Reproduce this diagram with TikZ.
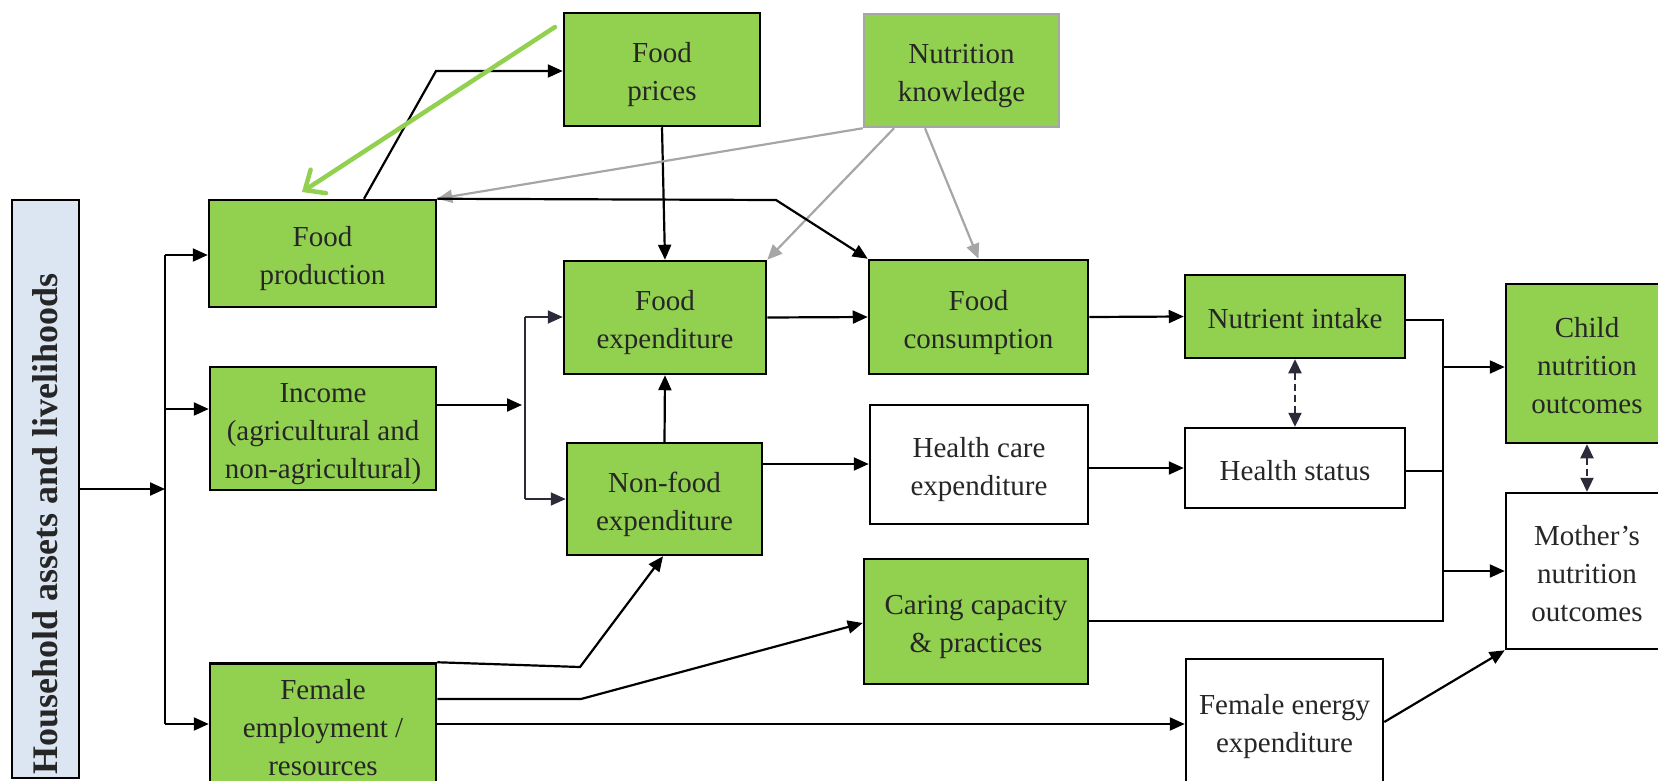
\documentclass[tikz,border=0pt]{standalone}
\usepackage{fontspec}
\setmainfont{Liberation Serif}
\usetikzlibrary{arrows.meta,calc}
\definecolor{boxgreen}{HTML}{92D050}
\definecolor{hhblue}{HTML}{DCE6F2}
\definecolor{txt}{HTML}{262626}
\definecolor{kgray}{HTML}{A6A6A6}
\definecolor{navy}{HTML}{2B2B3A}
\newcommand{\bt}[1]{\raisebox{0pt}[\dimexpr\height+9pt\relax][\depth]{\begin{tabular}{@{}c@{}}#1\end{tabular}}}
\tikzset{
  box/.style={draw=black, line width=2.5pt, inner sep=0pt, align=center, text=txt,
    font=\fontsize{29}{38}\selectfont},
  gbox/.style={box, fill=boxgreen},
  wbox/.style={box, fill=white},
  conn/.style={line width=2.2pt, black},
  arr/.style={conn, -{Triangle[length=15pt,width=13pt]}},
  karr/.style={line width=2.2pt, kgray, -{Triangle[length=15pt,width=13pt]}},
  narr/.style={line width=1.8pt, navy, -{Triangle[length=15pt,width=13pt]}},
  nline/.style={line width=1.8pt, navy},
  dblarr/.style={line width=2.2pt, navy, dash pattern=on 7pt off 4pt,
    {Triangle[length=14pt,width=13pt]}-{Triangle[length=14pt,width=13pt]}},
  greenarr/.style={line width=4.5pt, boxgreen, line cap=round,
    -{Straight Barb[length=16pt,width=28pt,line cap=round]}}
}
\begin{document}
\begin{tikzpicture}[x=1pt,y=-1pt]
\useasboundingbox (0,0) rectangle (1658,780);
% boxes
\node[box, fill=hhblue, minimum width=67pt, minimum height=578pt] (hh) at (45.5,489) {};
\node[rotate=90, text=txt, font=\bfseries\fontsize{36}{42}\selectfont] (hhtext) at (45,524) {Household assets and livelihoods};
\node[gbox, minimum width=227pt, minimum height=107pt] (fp) at (322.5,253.5) {\bt{Food\\production}};
\node[gbox, minimum width=196pt, minimum height=113pt] (fpr) at (662,69.5) {\bt{Food\\prices}};
\node[gbox, draw=kgray, minimum width=195pt, minimum height=113pt] (nk) at (961.5,70.5) {\bt{Nutrition\\knowledge}};
\node[gbox, minimum width=202pt, minimum height=113pt] (fe) at (665,317.5) {\bt{Food\\expenditure}};
\node[gbox, minimum width=219pt, minimum height=114pt] (fc) at (978.5,317) {\bt{Food\\consumption}};
\node[gbox, minimum width=220pt, minimum height=83pt] (ni) at (1295,316.5) {\bt{Nutrient intake}};
\node[wbox, minimum width=220pt, minimum height=80pt] (hs) at (1295,468) {\bt{Health status}};
\node[gbox, minimum width=162pt, minimum height=159pt] (cno) at (1587,363.5) {\bt{Child\\nutrition\\outcomes}};
\node[wbox, minimum width=162pt, minimum height=156pt] (mno) at (1587,571) {\bt{Mother’s\\nutrition\\outcomes}};
\node[gbox, minimum width=226pt, minimum height=121pt] (inc) at (323,428.5) {\bt{Income\\(agricultural and\\non-agricultural)}};
\node[gbox, minimum width=195pt, minimum height=112pt] (nfe) at (664.5,499) {\bt{Non-food\\expenditure}};
\node[wbox, minimum width=218pt, minimum height=119pt] (hce) at (979,464.5) {\bt{Health care\\expenditure}};
\node[gbox, minimum width=224pt, minimum height=125pt] (cc) at (976,621.5) {\bt{Caring capacity\\\& practices}};
\node[gbox, minimum width=226pt, minimum height=118pt] (fem) at (323,725) {\bt{Female\\employment /\\resources}};
\node[wbox, minimum width=197pt, minimum height=124pt] (fee) at (1284.5,721) {\bt{Female energy\\expenditure}};
% trunk from household
\coordinate (tj) at (165,489);
\coordinate (t1) at (165,255);
\coordinate (t2) at (165,409);
\coordinate (t3) at (165,724);
\draw[arr] (hh.east |- tj) -- (tj);
\draw[conn] (t1) -- (t3);
\draw[arr] (t1) -- (fp.west |- t1);
\draw[arr] (t2) -- (inc.west |- t2);
\draw[arr] (t3) -- (fem.west |- t3);
% income
\coordinate (ia) at (522,405);
\draw[arr] (inc.east |- ia) -- (ia);
\coordinate (b1) at (525,317);
\coordinate (b2) at (525,499);
\draw[nline] (b1) -- (b2);
\draw[narr] (b1) -- (fe.west |- b1);
\draw[narr] (b2) -- (nfe.west |- b2);
% food production -> prices
\coordinate (fpa) at (364,200);
\coordinate (fpk) at (436,71);
\draw[arr] (fp.north -| fpa) -- (fpk) -- (fpr.west |- fpk);
% green arrow
\coordinate (gs) at (555,27);
\coordinate (ge) at (302,192);
\draw[greenarr] (gs) -- (ge);
% prices -> food expenditure
\draw[arr] (fpr.south) -- (fe.north);
% nutrition knowledge (gray)
\coordinate (nk1) at (894,127);
\coordinate (nk2) at (925,127);
\draw[karr] (nk.south west) -- (fp.north east);
\draw[karr] (nk.south -| nk1) -- (fe.north east);
\draw[karr] (nk.south -| nk2) -- (fc.north);
% food production -> food consumption
\coordinate (kb) at (776,200);
\draw[arr] (fp.north east) -- (kb) -- (fc.north west);
% expenditures
\draw[arr] (fe.east) -- (fc.west);
\draw[arr] (nfe.north) -- (fe.south);
\coordinate (nh) at (762,464);
\draw[arr] (nfe.east |- nh) -- (hce.west |- nh);
\draw[arr] (fc.east) -- (ni.west);
\draw[arr] (hce.east |- hs.west) -- (hs.west);
\draw[dblarr] (ni.south) -- (hs.north);
% bus to outcomes
\coordinate (bt) at (1443,320);
\coordinate (bh) at (1443,471);
\coordinate (bb) at (1443,621);
\coordinate (bc) at (1443,367);
\coordinate (bm) at (1443,571);
\draw[conn] (ni.east |- bt) -- (bt) -- (bb) -- (cc.east |- bb);
\draw[conn] (hs.east |- bh) -- (bh);
\draw[arr] (bc) -- (cno.west |- bc);
\draw[arr] (bm) -- (mno.west |- bm);
\draw[dblarr] (cno.south) -- (mno.north);
% female employment
\coordinate (fk1) at (580,667);
\coordinate (fn) at (663,555);
\draw[arr] (fem.north east) -- (fk1) -- (nfe.south -| fn);
\coordinate (fk2) at (581,699);
\coordinate (fcc) at (864,623);
\draw[arr] (fem.east |- fk2) -- (fk2) -- (cc.west |- fcc);
\coordinate (fl) at (436,724);
\draw[arr] (fem.east |- fl) -- (fee.west |- fl);
\coordinate (fe2) at (1383,722);
\draw[arr] (fee.east |- fe2) -- (mno.south west);
\end{tikzpicture}
\end{document}
